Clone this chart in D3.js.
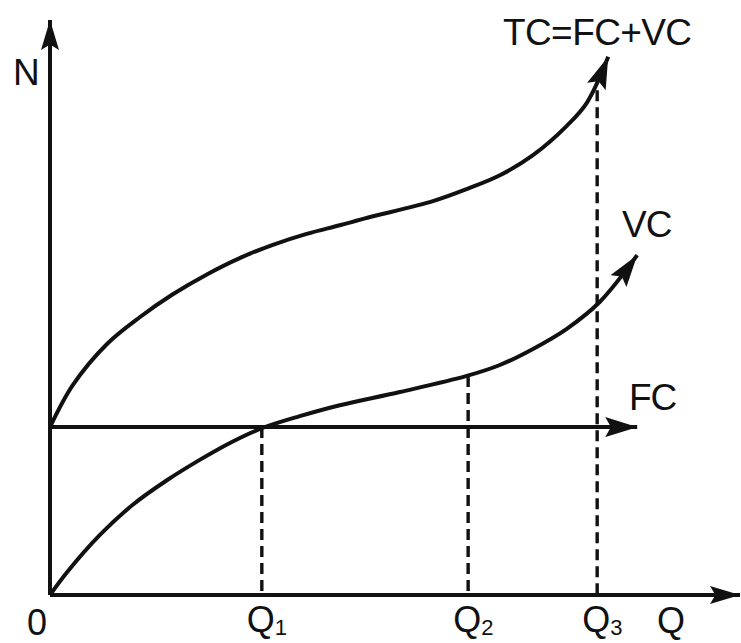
<!DOCTYPE html>
<html>
<head>
<meta charset="utf-8">
<script src="https://cdn.jsdelivr.net/npm/d3@7"></script>
<style>
  html, body { margin: 0; padding: 0; background: #fff; }
  svg { display: block; }
  text { font-family: "Liberation Sans", Arial, sans-serif; fill: #111; }
</style>
</head>
<body>
<svg id="chart" width="741" height="643"></svg>
<script>
// ---- data ----
const tcX = [0, 3.3, 8.3, 13, 17.8, 22.8, 27.5, 32.3, 37.2, 42, 46, 55.5, 60.4, 65.2, 70, 74.9, 77.8, 80.9];
const tcY = [29.2, 36.5, 43.7, 48.3, 52.3, 55.8, 58.6, 60.9, 62.8, 64.3, 65.6, 68.5, 70.6, 73.0, 76.5, 81.6, 85.6, 93.6];
const vcX = [0, 2.5, 7.2, 12, 17, 21.7, 26.5, 30.7, 36.2, 42, 50.7, 60.4, 65.2, 70, 74.9, 79.7, 85.1];
const vcY = [0, 4.0, 10.4, 15.7, 20.0, 23.5, 26.7, 29.0, 31.1, 33.0, 35.3, 38.1, 40.0, 42.8, 46.3, 51.0, 59.1];
const fcValue = 29.2;
const fcEnd = 85.1;
const qNames = ["Q", "Q", "Q"];
const qSubs = ["1", "2", "3"];
const qValues = [30.7, 60.6, 79.3];
const dashTop = [29.2, 38.1, 87.8];
const curveLabels = ["TC=FC+VC", "VC", "FC"];

// ---- scales ----
const x = d3.scaleLinear().domain([0, 100]).range([50, 740]);
const y = d3.scaleLinear().domain([0, 100]).range([595, 20]);

const svg = d3.select("#chart");
const defs = svg.append("defs");
function marker(id, len, half) {
  defs.append("marker")
    .attr("id", id)
    .attr("markerUnits", "userSpaceOnUse")
    .attr("viewBox", `0 ${-half} ${len} ${2 * half}`)
    .attr("markerWidth", len).attr("markerHeight", 2 * half)
    .attr("refX", len).attr("refY", 0)
    .attr("orient", "auto")
    .append("path")
    .attr("d", `M0,${-half} L${len},0 L0,${half} L${len * 0.18},0 Z`)
    .attr("fill", "#111");
}
marker("axisArrow", 30, 9);
marker("curveArrow", 32, 10);

const ink = "#111";

// dashed guide lines
svg.append("g").selectAll("line").data(qValues).join("line")
  .attr("x1", d => x(d)).attr("x2", d => x(d))
  .attr("y1", (d, i) => y(dashTop[i])).attr("y2", y(0))
  .attr("stroke", ink).attr("stroke-width", 3.4)
  .attr("stroke-dasharray", "11,6");

// axes
svg.append("line")
  .attr("x1", x(0)).attr("y1", y(0)).attr("x2", x(0)).attr("y2", y(100))
  .attr("stroke", ink).attr("stroke-width", 4).attr("marker-end", "url(#axisArrow)");
svg.append("line")
  .attr("x1", x(0)).attr("y1", y(0)).attr("x2", x(100)).attr("y2", y(0))
  .attr("stroke", ink).attr("stroke-width", 4).attr("marker-end", "url(#axisArrow)");

// FC line
svg.append("line")
  .attr("x1", x(0)).attr("y1", y(fcValue)).attr("x2", x(fcEnd)).attr("y2", y(fcValue))
  .attr("stroke", ink).attr("stroke-width", 4).attr("marker-end", "url(#curveArrow)");

// curves
const line = d3.line().x(d => x(d[0])).y(d => y(d[1])).curve(d3.curveCatmullRom.alpha(0.5));
const tcData = tcX.map((v, i) => [v, tcY[i]]);
const vcData = vcX.map((v, i) => [v, vcY[i]]);
[tcData, vcData].forEach(data => {
  svg.append("path")
    .attr("d", line(data))
    .attr("fill", "none").attr("stroke", ink).attr("stroke-width", 4)
    .attr("marker-end", "url(#curveArrow)");
});

// labels
svg.append("text").attr("x", 13).attr("y", 85).attr("font-size", 37).text("N");
svg.append("text").attr("x", 503).attr("y", 45).attr("font-size", 37).attr("letter-spacing", -0.6).text(curveLabels[0]);
svg.append("text").attr("x", 622).attr("y", 237).attr("font-size", 37).attr("letter-spacing", -1).text(curveLabels[1]);
svg.append("text").attr("x", 629).attr("y", 410).attr("font-size", 37).attr("letter-spacing", -1).text(curveLabels[2]);
svg.append("text").attr("x", 27).attr("y", 635).attr("font-size", 36).text("0");
svg.append("text").attr("x", 657).attr("y", 633).attr("font-size", 36).text("Q");

const ql = svg.append("g").selectAll("text").data(qValues).join("text")
  .attr("x", d => x(d) - 15).attr("y", 632).attr("font-size", 36);
ql.append("tspan").text((d, i) => qNames[i]);
ql.append("tspan").attr("font-size", 22).attr("dy", 3).text((d, i) => qSubs[i]);
</script>
</body>
</html>
